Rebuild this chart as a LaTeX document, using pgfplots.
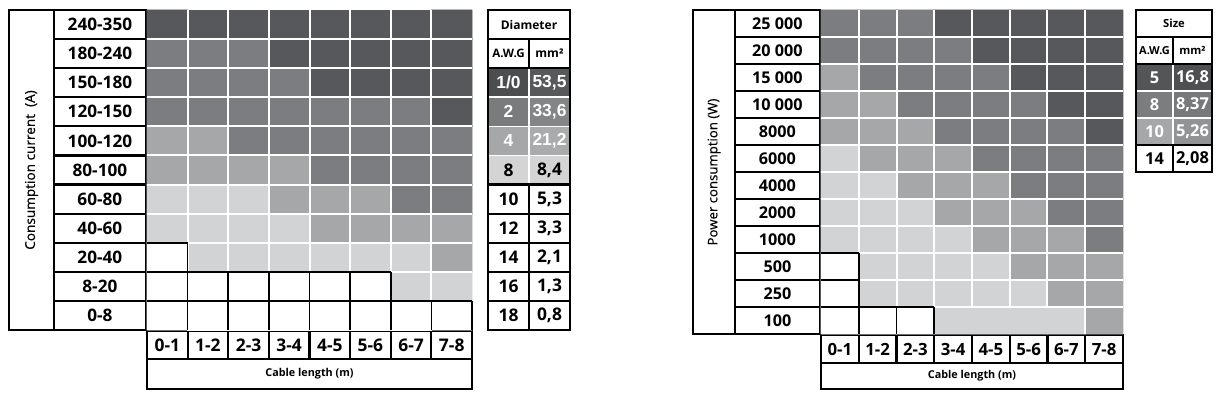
\documentclass[border=0pt]{standalone}
\usepackage{fontspec}
\setmainfont{Open Sans}
\newfontfamily\arialfont{Liberation Sans}
\newfontfamily\semibold[FakeBold=0.35]{Open Sans}
\usepackage{pgfplots}
\pgfplotsset{compat=1.18}
\usepackage{pgfplotstable}

% Left grid: consumption current vs cable length (level 0 = white ... 4 = darkest)
\pgfplotstableread{
x y c
0.5 0.5 0
1.5 0.5 0
2.5 0.5 0
3.5 0.5 0
4.5 0.5 0
5.5 0.5 0
6.5 0.5 0
7.5 0.5 0
0.5 1.5 0
1.5 1.5 0
2.5 1.5 0
3.5 1.5 0
4.5 1.5 0
5.5 1.5 0
6.5 1.5 1
7.5 1.5 1
0.5 2.5 0
1.5 2.5 1
2.5 2.5 1
3.5 2.5 1
4.5 2.5 1
5.5 2.5 1
6.5 2.5 1
7.5 2.5 2
0.5 3.5 1
1.5 3.5 1
2.5 3.5 1
3.5 3.5 1
4.5 3.5 2
5.5 3.5 2
6.5 3.5 2
7.5 3.5 2
0.5 4.5 1
1.5 4.5 1
2.5 4.5 1
3.5 4.5 2
4.5 4.5 2
5.5 4.5 2
6.5 4.5 3
7.5 4.5 3
0.5 5.5 2
1.5 5.5 2
2.5 5.5 2
3.5 5.5 2
4.5 5.5 3
5.5 5.5 3
6.5 5.5 3
7.5 5.5 3
0.5 6.5 2
1.5 6.5 2
2.5 6.5 3
3.5 6.5 3
4.5 6.5 3
5.5 6.5 3
6.5 6.5 3
7.5 6.5 3
0.5 7.5 3
1.5 7.5 3
2.5 7.5 3
3.5 7.5 3
4.5 7.5 3
5.5 7.5 3
6.5 7.5 3
7.5 7.5 4
0.5 8.5 3
1.5 8.5 3
2.5 8.5 3
3.5 8.5 3
4.5 8.5 4
5.5 8.5 4
6.5 8.5 4
7.5 8.5 4
0.5 9.5 3
1.5 9.5 3
2.5 9.5 3
3.5 9.5 4
4.5 9.5 4
5.5 9.5 4
6.5 9.5 4
7.5 9.5 4
0.5 10.5 4
1.5 10.5 4
2.5 10.5 4
3.5 10.5 4
4.5 10.5 4
5.5 10.5 4
6.5 10.5 4
7.5 10.5 4
}\currentdata

% Right grid: power consumption vs cable length
\pgfplotstableread{
x y c
0.5 0.5 0
1.5 0.5 0
2.5 0.5 0
3.5 0.5 1
4.5 0.5 1
5.5 0.5 1
6.5 0.5 1
7.5 0.5 2
0.5 1.5 0
1.5 1.5 1
2.5 1.5 1
3.5 1.5 1
4.5 1.5 1
5.5 1.5 1
6.5 1.5 2
7.5 1.5 2
0.5 2.5 0
1.5 2.5 1
2.5 2.5 1
3.5 2.5 1
4.5 2.5 1
5.5 2.5 2
6.5 2.5 2
7.5 2.5 2
0.5 3.5 1
1.5 3.5 1
2.5 3.5 1
3.5 3.5 1
4.5 3.5 2
5.5 3.5 2
6.5 3.5 2
7.5 3.5 3
0.5 4.5 1
1.5 4.5 1
2.5 4.5 1
3.5 4.5 2
4.5 4.5 2
5.5 4.5 2
6.5 4.5 3
7.5 4.5 3
0.5 5.5 1
1.5 5.5 1
2.5 5.5 2
3.5 5.5 2
4.5 5.5 2
5.5 5.5 3
6.5 5.5 3
7.5 5.5 3
0.5 6.5 1
1.5 6.5 2
2.5 6.5 2
3.5 6.5 2
4.5 6.5 3
5.5 6.5 3
6.5 6.5 3
7.5 6.5 3
0.5 7.5 2
1.5 7.5 2
2.5 7.5 2
3.5 7.5 3
4.5 7.5 3
5.5 7.5 3
6.5 7.5 3
7.5 7.5 4
0.5 8.5 2
1.5 8.5 2
2.5 8.5 3
3.5 8.5 3
4.5 8.5 3
5.5 8.5 3
6.5 8.5 4
7.5 8.5 4
0.5 9.5 2
1.5 9.5 3
2.5 9.5 3
3.5 9.5 3
4.5 9.5 3
5.5 9.5 4
6.5 9.5 4
7.5 9.5 4
0.5 10.5 3
1.5 10.5 3
2.5 10.5 3
3.5 10.5 3
4.5 10.5 4
5.5 10.5 4
6.5 10.5 4
7.5 10.5 4
0.5 11.5 3
1.5 11.5 3
2.5 11.5 3
3.5 11.5 4
4.5 11.5 4
5.5 11.5 4
6.5 11.5 4
7.5 11.5 4
}\powerdata

\pgfplotsset{
  gridaxis/.style={
    scale only axis, anchor=south west,
    xmin=0, xmax=8, enlargelimits=false, clip=false,
    axis line style={draw=none}, major tick length=0pt,
    xtick={0.5,1.5,...,7.5},
    xticklabels={0-1,1-2,2-3,3-4,4-5,5-6,6-7,7-8},
    colormap={grays}{rgb255=(255,255,255) rgb255=(210,211,212) rgb255=(166,167,169) rgb255=(124,125,128) rgb255=(87,88,91)},
    colormap access=direct,
  },
}

\begin{document}
\begin{tikzpicture}
\path[use as bounding box] (0,0) rectangle (612.5pt,-197.5pt);

%================ LEFT CHART =================
\begin{axis}[gridaxis,
  at={(73.5pt,-165pt)}, width=162.5pt, height=160pt,
  ymin=0, ymax=11,
  ytick={0.5,1.5,...,10.5},
  yticklabels={0-8,8-20,20-40,40-60,60-80,80-100,100-120,120-150,150-180,180-240,240-350},
  xticklabel style={draw, line width=1.1pt, minimum width=20.3125pt, minimum height=14pt, inner sep=0pt, anchor=north, font=\bfseries\fontsize{8.7}{10}\selectfont},
  yticklabel style={draw, line width=1.1pt, minimum width=46pt, minimum height=14.545pt, inner sep=0pt, anchor=east, font=\bfseries\fontsize{8.6}{10}\selectfont},
  xlabel={Cable length (m)}, ylabel={Consumption current~ (A)},
  every axis x label/.style={at={([yshift=-14pt]axis description cs:0.5,0)}, anchor=north, draw, line width=1.1pt, minimum width=162.5pt, minimum height=15pt, inner sep=0pt, font=\bfseries\fontsize{5.4}{7}\selectfont},
  every axis y label/.style={at={([xshift=-46pt]axis description cs:0,0.5)}, anchor=south, rotate=90, draw, line width=0.9pt, minimum width=160pt, minimum height=22.5pt, inner sep=0pt, font=\semibold\fontsize{6.8}{9}\selectfont},
]
\addplot[matrix plot*, mesh/cols=8, mesh/rows=11, point meta=explicit] table[x=x, y=y, meta=c] {\currentdata};
% white separators
\pgfplotsinvokeforeach{1,...,7}{\addplot[white, line width=1pt] coordinates {(#1,0) (#1,11)};}
\pgfplotsinvokeforeach{1,...,10}{\addplot[white, line width=1pt] coordinates {(0,#1) (8,#1)};}
% black lines around white cells
\addplot[black, line width=0.8pt] coordinates {(0,1) (8,1)};
\addplot[black, line width=0.8pt] coordinates {(0,2) (6,2)};
\addplot[black, line width=0.8pt] coordinates {(0,3) (1,3)};
\addplot[black, line width=0.8pt] coordinates {(1,0) (1,3)};
\pgfplotsinvokeforeach{2,...,6}{\addplot[black, line width=0.8pt] coordinates {(#1,0) (#1,2)};}
\addplot[black, line width=0.8pt] coordinates {(7,0) (7,1)};
\addplot[black, line width=0.8pt] coordinates {(8,0) (8,1)};
\end{axis}

%================ RIGHT CHART =================
\begin{axis}[gridaxis,
  at={(410.5pt,-167pt)}, width=151pt, height=162pt,
  ymin=0, ymax=12,
  ytick={0.5,1.5,...,11.5},
  yticklabels={100,250,500,1000,2000,4000,6000,8000,10 000,15 000,20 000,25 000},
  xticklabel style={draw, line width=1.1pt, minimum width=18.875pt, minimum height=14pt, inner sep=0pt, anchor=north, font=\bfseries\fontsize{8.4}{10}\selectfont},
  yticklabel style={draw, line width=1.1pt, minimum width=42.5pt, minimum height=13.5pt, inner sep=0pt, anchor=east, font=\bfseries\fontsize{8.1}{10}\selectfont},
  xlabel={Cable length (m)}, ylabel={Power consumption (W)},
  every axis x label/.style={at={([yshift=-14pt]axis description cs:0.5,0)}, anchor=north, draw, line width=1.1pt, minimum width=151pt, minimum height=13pt, inner sep=0pt, font=\bfseries\fontsize{5.4}{7}\selectfont},
  every axis y label/.style={at={([xshift=-42.5pt]axis description cs:0,0.5)}, anchor=south, rotate=90, draw, line width=0.9pt, minimum width=162pt, minimum height=21pt, inner sep=0pt, font=\semibold\fontsize{6.6}{9}\selectfont},
]
\addplot[matrix plot*, mesh/cols=8, mesh/rows=12, point meta=explicit] table[x=x, y=y, meta=c] {\powerdata};
\pgfplotsinvokeforeach{1,2,3,7}{\addplot[white, line width=1pt] coordinates {(#1,0) (#1,12)};}
\pgfplotsinvokeforeach{4,5,6}{\addplot[white, line width=1pt] coordinates {(#1,1) (#1,12)};}
\pgfplotsinvokeforeach{1,...,11}{\addplot[white, line width=1pt] coordinates {(0,#1) (8,#1)};}
\addplot[black, line width=0.8pt] coordinates {(0,1) (3,1)};
\addplot[black, line width=0.8pt] coordinates {(0,2) (1,2)};
\addplot[black, line width=0.8pt] coordinates {(0,3) (1,3)};
\addplot[black, line width=0.8pt] coordinates {(1,0) (1,3)};
\addplot[black, line width=0.8pt] coordinates {(2,0) (2,1)};
\addplot[black, line width=0.8pt] coordinates {(3,0) (3,1)};
\end{axis}

%================ TABLES =================
\begin{scope}[x=0.5pt,y=-0.5pt]
% ---- Diameter table (left)
\fill[fill={rgb,255:red,76;green,77;blue,79}] (488,68.18) rectangle (529,97.27);
\fill[fill={rgb,255:red,88;green,89;blue,91}] (529,68.18) rectangle (570,97.27);
\fill[fill={rgb,255:red,122;green,123;blue,125}] (488,97.27) rectangle (529,126.36);
\fill[fill={rgb,255:red,132;green,133;blue,135}] (529,97.27) rectangle (570,126.36);
\fill[fill={rgb,255:red,166;green,167;blue,169}] (488,126.36) rectangle (529,155.45);
\fill[fill={rgb,255:red,170;green,171;blue,173}] (529,126.36) rectangle (570,155.45);
\fill[fill={rgb,255:red,212;green,212;blue,213}] (488,155.45) rectangle (570,184.55);
\draw[white, line width=0.8pt] (488,97.27) -- (570,97.27) (488,126.36) -- (570,126.36) (488,155.45) -- (570,155.45) (529,68.18) -- (529,184.55);
\draw[black, line width=1.1pt] (488,10) rectangle (570,330);
\draw[black, line width=1.1pt] (488,39.09) -- (570,39.09) (488,68.18) -- (570,68.18)
  (488,184.55) -- (570,184.55) (488,213.64) -- (570,213.64) (488,242.73) -- (570,242.73)
  (488,271.82) -- (570,271.82) (488,300.91) -- (570,300.91)
  (529,39.09) -- (529,68.18) (529,184.55) -- (529,330);
\node[font=\bfseries\fontsize{6}{7}\selectfont] at (529,24.55) {Diameter};
\node[font=\bfseries\fontsize{5.8}{7}\selectfont] at (508.5,53.64) {A.W.G};
\node[font=\bfseries\fontsize{6}{7}\selectfont] at (549.5,53.64) {mm²};
\begin{scope}[every node/.style={font=\arialfont\bfseries\fontsize{8.7}{10}\selectfont, text=white}]
\node at (508.5,82.73) {1/0}; \node at (549.5,82.73) {53,5};
\node at (508.5,111.82) {2}; \node at (549.5,111.82) {33,6};
\node at (508.5,140.91) {4}; \node at (549.5,140.91) {21,2};
\end{scope}
\begin{scope}[every node/.style={font=\bfseries\fontsize{8.7}{10}\selectfont, text=black}]
\node at (508.5,170) {8}; \node at (549.5,170) {8,4};
\node at (508.5,199.09) {10}; \node at (549.5,199.09) {5,3};
\node at (508.5,228.18) {12}; \node at (549.5,228.18) {3,3};
\node at (508.5,257.27) {14}; \node at (549.5,257.27) {2,1};
\node at (508.5,286.36) {16}; \node at (549.5,286.36) {1,3};
\node at (508.5,315.45) {18}; \node at (549.5,315.45) {0,8};
\end{scope}

% ---- Size table (right)
\fill[fill={rgb,255:red,84;green,85;blue,87}] (1136,64) rectangle (1173,91);
\fill[fill={rgb,255:red,78;green,79;blue,81}] (1173,64) rectangle (1212,91);
\fill[fill={rgb,255:red,124;green,125;blue,127}] (1136,91) rectangle (1173,118);
\fill[fill={rgb,255:red,120;green,121;blue,123}] (1173,91) rectangle (1212,118);
\fill[fill={rgb,255:red,166;green,167;blue,169}] (1136,118) rectangle (1173,145);
\fill[fill={rgb,255:red,146;green,147;blue,149}] (1173,118) rectangle (1212,145);
\draw[white, line width=0.8pt] (1136,91) -- (1212,91) (1136,118) -- (1212,118) (1173,64) -- (1173,145);
\draw[black, line width=1.1pt] (1136,10) rectangle (1212,172);
\draw[black, line width=1.1pt] (1136,37) -- (1212,37) (1136,64) -- (1212,64) (1136,145) -- (1212,145)
  (1173,37) -- (1173,64) (1173,145) -- (1173,172);
\node[font=\bfseries\fontsize{5.6}{7}\selectfont] at (1174,23.5) {Size};
\node[font=\bfseries\fontsize{5.5}{7}\selectfont] at (1154.5,50.5) {A.W.G};
\node[font=\bfseries\fontsize{5.6}{7}\selectfont] at (1192.5,50.5) {mm²};
\begin{scope}[every node/.style={font=\bfseries\fontsize{8.2}{10}\selectfont, text=white}]
\node at (1154.5,77.5) {5}; \node at (1192.5,77.5) {16,8};
\node at (1154.5,104.5) {8}; \node at (1192.5,104.5) {8,37};
\node at (1154.5,131.5) {10}; \node at (1192.5,131.5) {5,26};
\end{scope}
\node[font=\bfseries\fontsize{8.2}{10}\selectfont] at (1154.5,158.5) {14};
\node[font=\bfseries\fontsize{8.2}{10}\selectfont] at (1192.5,158.5) {2,08};
\end{scope}
\end{tikzpicture}
\end{document}
